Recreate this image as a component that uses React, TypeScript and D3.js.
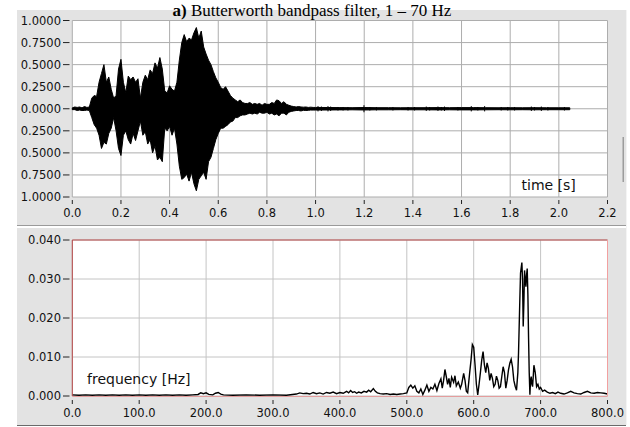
import React from "react";
import * as d3 from "d3";

// ---------- DATA ----------
const titleText = "Butterworth bandpass filter, 1 – 70 Hz";

// top chart: time axis
const timeTicks = [0, 0.2, 0.4, 0.6, 0.8, 1.0, 1.2, 1.4, 1.6, 1.8, 2.0, 2.2];
const ampTicks = [1, 0.75, 0.5, 0.25, 0, -0.25, -0.5, -0.75, -1];
const ampTickLabels = ["1.0000", "0.7500", "0.5000", "0.2500", "0.0000", "0.2500", "0.5000", "0.7500", "1.0000"];

// waveform envelope sampled every 0.01 s from 0.00 to 1.00
const envUpper = [
  0.01, 0.02, 0.015, 0.02, 0.01, 0.025, 0.015, 0.02, 0.12, 0.15,
  0.14, 0.3, 0.4, 0.5, 0.3, 0.36, 0.22, 0.12, 0.15, 0.45,
  0.56, 0.3, 0.18, 0.37, 0.33, 0.36, 0.3, 0.34, 0.12, 0.3,
  0.38, 0.33, 0.44, 0.4, 0.52, 0.46, 0.58, 0.45, 0.2, 0.18,
  0.26, 0.22, 0.2, 0.3, 0.55, 0.75, 0.84, 0.76, 0.8, 0.78,
  0.86, 0.92, 0.8, 0.88, 0.7, 0.62, 0.55, 0.5, 0.42, 0.35,
  0.3, 0.24, 0.22, 0.25, 0.2, 0.15, 0.12, 0.1, 0.08, 0.1,
  0.07, 0.06, 0.06, 0.07, 0.05, 0.06, 0.05, 0.06, 0.04, 0.06,
  0.05, 0.05, 0.07, 0.06, 0.1, 0.09, 0.06, 0.08, 0.05, 0.04,
  0.03, 0.025, 0.02, 0.025, 0.02, 0.018, 0.02, 0.015, 0.018, 0.015,
  0.015,
];
const envLower = [
  -0.01, -0.01, -0.02, -0.015, -0.02, -0.02, -0.015, -0.02, -0.1, -0.18,
  -0.22, -0.3, -0.45, -0.38, -0.4, -0.28, -0.22, -0.1, -0.25, -0.45,
  -0.53, -0.3, -0.25, -0.35, -0.4, -0.28, -0.36, -0.25, -0.14, -0.3,
  -0.26, -0.4, -0.35, -0.5, -0.42, -0.58, -0.55, -0.6, -0.22, -0.25,
  -0.2, -0.3, -0.22, -0.4, -0.65, -0.8, -0.78, -0.74, -0.82, -0.72,
  -0.85, -0.93, -0.8, -0.76, -0.72, -0.8, -0.6, -0.55, -0.45, -0.35,
  -0.28, -0.22, -0.22, -0.2, -0.18, -0.15, -0.14, -0.1, -0.1, -0.08,
  -0.07, -0.07, -0.06, -0.05, -0.06, -0.05, -0.06, -0.04, -0.05, -0.05,
  -0.04, -0.06, -0.05, -0.07, -0.06, -0.08, -0.05, -0.05, -0.07, -0.04,
  -0.03, -0.025, -0.02, -0.02, -0.025, -0.018, -0.02, -0.018, -0.015, -0.015,
  -0.015,
];
// quiet tail after 1.0 s
const tailTimes = [1.05, 1.1, 1.15, 1.2, 1.25, 1.3, 1.35, 1.4, 1.45, 1.5, 1.55, 1.6, 1.65, 1.7, 1.75, 1.8, 1.85, 1.9, 1.95, 2.0, 2.045];
const tailAmp = [0.014, 0.013, 0.012, 0.014, 0.012, 0.012, 0.011, 0.012, 0.012, 0.013, 0.012, 0.013, 0.013, 0.012, 0.011, 0.012, 0.011, 0.012, 0.011, 0.011, 0.011];
// small spikes in the tail
const spikeTimes = [1.01, 1.024, 1.051, 1.062, 1.092, 1.113, 1.133, 1.199, 1.223, 1.25, 1.318, 1.38, 1.407, 1.455, 1.469, 1.503, 1.517, 1.53, 1.585, 1.64, 1.667, 1.695, 1.763, 1.79, 1.818, 1.887, 1.9, 1.928, 1.955, 2.023];
const spikeAmp = [0.03, 0.025, 0.03, 0.025, 0.02, 0.02, 0.02, 0.04, 0.02, 0.02, 0.02, 0.02, 0.02, 0.025, 0.02, 0.025, 0.02, 0.025, 0.02, 0.03, 0.02, 0.03, 0.02, 0.02, 0.02, 0.025, 0.02, 0.025, 0.02, 0.02];

// bottom chart: spectrum
const freqTicks = [0, 100, 200, 300, 400, 500, 600, 700, 800];
const specTicks = [0, 0.01, 0.02, 0.03, 0.04];
const specTickLabels = ["0.000", "0.010", "0.020", "0.030", "0.040"];
const specFreq = [
  0, 10, 20, 30, 40, 50, 60, 70, 80, 90, 100, 110, 120, 130, 140, 150, 160, 170, 180, 188,
  192, 196, 200, 204, 210, 214, 218, 222, 226, 240, 260, 280, 300, 320, 335, 340, 345, 350, 355, 360,
  365, 370, 375, 380, 385, 390, 395, 400, 405, 410, 413, 416, 419, 422, 425, 428, 432, 436, 440, 443,
  446, 450, 453, 456, 460, 465, 470, 475, 480, 485, 490, 495, 500, 503, 506, 509, 512, 515, 518, 521,
  524, 527, 530, 533, 536, 539, 542, 545, 548, 551, 553, 555, 557, 559, 561, 563, 565, 567, 570, 572,
  574, 577, 580, 582, 585, 587, 589, 591, 594, 596, 598, 600, 602, 604, 606, 608, 610, 612, 614, 616,
  618, 620, 622, 624, 626, 628, 630, 632, 634, 636, 638, 640, 642, 644, 646, 648, 650, 652, 654, 656,
  658, 660, 662, 664, 666, 667, 669, 670, 672, 673, 674, 675, 676, 677, 678, 679, 680, 681, 682, 683,
  684, 685, 686, 687, 688, 689, 690, 692, 694, 696, 698, 700, 703, 706, 710, 714, 718, 722, 726, 730,
  735, 740, 745, 750, 755, 760, 765, 770, 775, 780, 785, 790, 795, 800,
];
const specVal = [
  0.0003, 0.0002, 0.0003, 0.0002, 0.0003, 0.0002, 0.0003, 0.0002, 0.0003, 0.0002, 0.0003, 0.0002, 0.0003, 0.0002, 0.0003, 0.0002, 0.0003, 0.0002, 0.0003, 0.0004,
  0.0008, 0.0006, 0.0008, 0.0004, 0.0003, 0.0007, 0.0009, 0.0005, 0.0003, 0.0002, 0.0003, 0.0002, 0.0003, 0.0002, 0.0005, 0.0008, 0.0006, 0.0007, 0.0005, 0.0009,
  0.0006, 0.0008, 0.0005, 0.0009, 0.0007, 0.001, 0.0006, 0.0009, 0.0007, 0.0012, 0.0008, 0.0014, 0.0009, 0.0011, 0.0007, 0.001, 0.0008, 0.0012, 0.001, 0.0015,
  0.0011, 0.0019, 0.0012, 0.0008, 0.0006, 0.0005, 0.0006, 0.0004, 0.0005, 0.0004, 0.0005, 0.0006, 0.0008, 0.0022, 0.0028, 0.002, 0.0026, 0.0012, 0.0008, 0.0018,
  0.0004, 0.0015, 0.0028, 0.0012, 0.0022, 0.0018, 0.003, 0.0014, 0.0032, 0.0044, 0.002, 0.004, 0.0068, 0.005, 0.003, 0.0045, 0.0022, 0.0048, 0.0035, 0.0052,
  0.0026, 0.0036, 0.002, 0.003, 0.0058, 0.004, 0.0012, 0.0008, 0.006, 0.0092, 0.0132, 0.0125, 0.008, 0.003, 0.0003, 0.003, 0.006, 0.0092, 0.0114, 0.008,
  0.006, 0.0085, 0.007, 0.004, 0.0058, 0.0045, 0.0024, 0.003, 0.0051, 0.004, 0.002, 0.0024, 0.005, 0.0075, 0.006, 0.002, 0.004, 0.0067, 0.0084, 0.0094,
  0.0075, 0.004, 0.0025, 0.0015, 0.006, 0.011, 0.025, 0.0315, 0.0342, 0.03, 0.0178, 0.024, 0.0322, 0.03, 0.028, 0.031, 0.0327, 0.026, 0.015, 0.006,
  0.0003, 0.004, 0.005, 0.003, 0.0024, 0.005, 0.0079, 0.006, 0.0024, 0.003, 0.0018, 0.0022, 0.0012, 0.0015, 0.001, 0.0007, 0.0009, 0.0006, 0.001, 0.0007,
  0.0005, 0.0008, 0.0012, 0.0008, 0.0006, 0.0005, 0.0009, 0.0012, 0.0008, 0.0007, 0.0009, 0.0008, 0.0007, 0.0005,
];

// ---------- CHART ----------
const W = 630;
const H = 427;
const PANEL = "#e3e3e3";
const GRID_T = "#adadad";
const GRID_B = "#c4c4c4";
const TICKFONT = "'DejaVu Sans', Verdana, sans-serif";

export default function App() {
  const xT = d3.scaleLinear().domain([0, 2.2]).range([72.3, 607.5]);
  const yT = d3.scaleLinear().domain([-1, 1]).range([197, 20.5]);
  const xF = d3.scaleLinear().domain([0, 800]).range([72.3, 607.5]);
  const yF = d3.scaleLinear().domain([0, 0.04]).range([396, 240]);

  const envT = d3.range(envUpper.length).map((i) => i * 0.01);
  const wave = envT
    .map((t, i) => ({ t, u: envUpper[i], l: envLower[i] }))
    .concat(tailTimes.map((t, i) => ({ t, u: tailAmp[i], l: -tailAmp[i] })));

  const waveArea = d3
    .area<{ t: number; u: number; l: number }>()
    .x((d) => xT(d.t))
    .y0((d) => yT(d.l))
    .y1((d) => yT(d.u))
    .curve(d3.curveLinear);

  const specLine = d3
    .line<number>()
    .x((_, i) => xF(specFreq[i]))
    .y((d) => yF(d));

  const tx0 = xT.range()[0];
  const tx1 = xT.range()[1];
  const ty0 = yT.range()[1];
  const ty1 = yT.range()[0];
  const fx0 = xF.range()[0];
  const fx1 = xF.range()[1];
  const fy0 = yF.range()[1];
  const fy1 = yF.range()[0];

  return (
    <svg
      width={W}
      height={H}
      viewBox={`0 0 ${W} ${H}`}
      style={{ position: "absolute", left: 0, top: 0, background: "#fff" }}
    >
      {/* panels */}
      <rect x={17} y={10} width={609} height={215} fill={PANEL} />
      <line x1={17} x2={626} y1={225.5} y2={225.5} stroke="#9a9a9a" />
      <rect x={17} y={228} width={609} height={197} fill={PANEL} />
      <line x1={17} x2={626} y1={425.5} y2={425.5} stroke="#6a6a6a" />
      <line x1={626.5} x2={626.5} y1={10} y2={425} stroke="#f4f4f4" />
      <rect x={622.5} y={137} width={1.5} height={45} fill="#9c9c9c" />

      {/* title */}
      <text
        x={312}
        y={15.5}
        textAnchor="middle"
        fontFamily="'Liberation Serif', 'Times New Roman', serif"
        fontSize={17}
        fill="#000"
      >
        <tspan fontWeight="bold">a)</tspan> {titleText}
      </text>

      {/* ===== top chart ===== */}
      <rect x={tx0} y={ty0} width={tx1 - tx0} height={ty1 - ty0} fill="#fff" />
      {timeTicks.map((t) => (
        <line key={"gx" + t} x1={xT(t)} x2={xT(t)} y1={ty0} y2={ty1} stroke={GRID_T} strokeWidth={1} />
      ))}
      {ampTicks.map((a) => (
        <line key={"gy" + a} x1={tx0} x2={tx1} y1={yT(a)} y2={yT(a)} stroke={GRID_T} strokeWidth={1} />
      ))}
      <path d={waveArea(wave) || ""} fill="#000" stroke="#000" strokeWidth={1} strokeLinejoin="round" />
      {spikeTimes.map((t, i) => (
        <line
          key={"sp" + i}
          x1={xT(t)}
          x2={xT(t)}
          y1={yT(spikeAmp[i])}
          y2={yT(-spikeAmp[i])}
          stroke="#000"
          strokeWidth={1}
        />
      ))}
      <text x={521.5} y={190} fontFamily={TICKFONT} fontSize={14} fill="#111">
        time [s]
      </text>
      {ampTicks.map((a, i) => (
        <g key={"ty" + i}>
          <line x1={63} x2={69.5} y1={yT(a)} y2={yT(a)} stroke="#222" />
          <text
            x={61}
            y={yT(a)}
            dy="0.36em"
            textAnchor="end"
            fontFamily={TICKFONT}
            fontSize={11.5}
            fill="#111"
          >
            {ampTickLabels[i]}
          </text>
        </g>
      ))}
      {timeTicks.map((t) => (
        <g key={"tx" + t}>
          <line x1={xT(t)} x2={xT(t)} y1={200} y2={204} stroke="#222" />
          <text
            x={xT(t)}
            y={217}
            textAnchor="middle"
            fontFamily={TICKFONT}
            fontSize={11.5}
            fill="#111"
          >
            {d3.format(".1f")(t)}
          </text>
        </g>
      ))}

      {/* ===== bottom chart ===== */}
      <rect x={fx0} y={fy0} width={fx1 - fx0} height={fy1 - fy0} fill="#fff" />
      {freqTicks.map((f) => (
        <line key={"fgx" + f} x1={xF(f)} x2={xF(f)} y1={fy0} y2={fy1} stroke={GRID_B} />
      ))}
      {specTicks.map((v) => (
        <line key={"fgy" + v} x1={fx0} x2={fx1} y1={yF(v)} y2={yF(v)} stroke={GRID_B} />
      ))}
      <path d={specLine(specVal) || ""} fill="none" stroke="#000" strokeWidth={1.4} strokeLinejoin="miter" />
      {/* red frame */}
      <line x1={fx0} x2={fx1} y1={fy0} y2={fy0} stroke="#b84848" />
      <line x1={fx0} x2={fx0} y1={fy0} y2={fy1} stroke="#b84848" />
      <line x1={fx1} x2={fx1} y1={fy0} y2={fy1} stroke="#f2a0a0" />
      <line x1={fx0} x2={fx1} y1={fy1 + 0.5} y2={fy1 + 0.5} stroke="#e89090" strokeOpacity={0.8} />
      <text x={87} y={383.5} fontFamily={TICKFONT} fontSize={14} fill="#111">
        frequency [Hz]
      </text>
      {specTicks.map((v, i) => (
        <g key={"fy" + i}>
          <line x1={63} x2={69.5} y1={yF(v)} y2={yF(v)} stroke="#222" />
          <text
            x={61}
            y={yF(v)}
            dy="0.36em"
            textAnchor="end"
            fontFamily={TICKFONT}
            fontSize={11.5}
            fill="#111"
          >
            {specTickLabels[i]}
          </text>
        </g>
      ))}
      {freqTicks.map((f) => (
        <g key={"fx" + f}>
          <line x1={xF(f)} x2={xF(f)} y1={400} y2={404} stroke="#222" />
          <text
            x={xF(f)}
            y={417}
            textAnchor="middle"
            fontFamily={TICKFONT}
            fontSize={11.5}
            fill="#111"
          >
            {d3.format(".1f")(f)}
          </text>
        </g>
      ))}
    </svg>
  );
}
